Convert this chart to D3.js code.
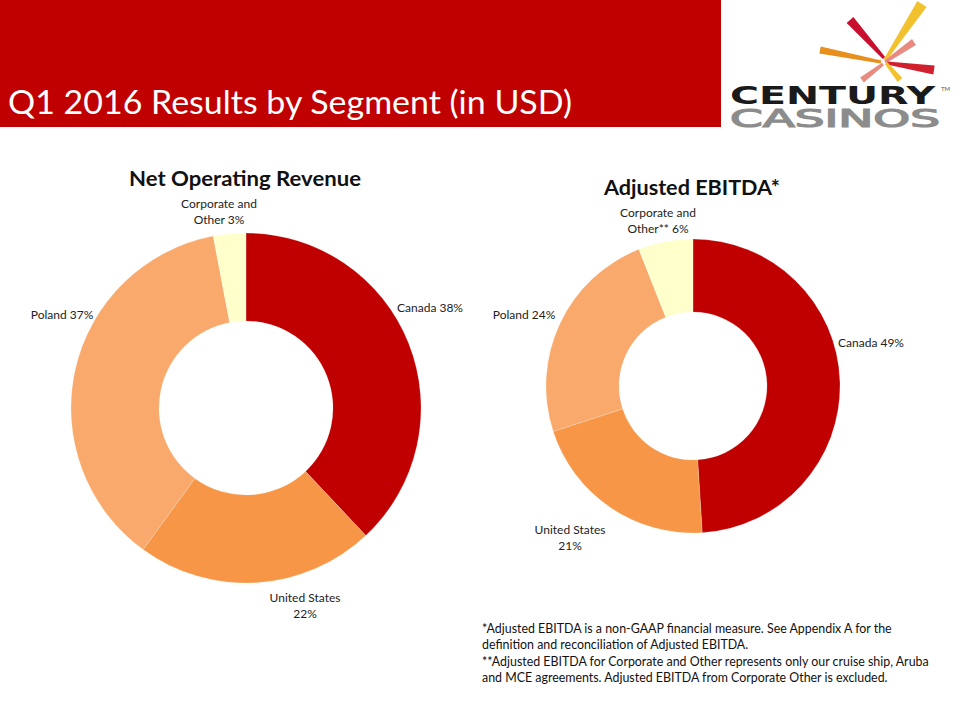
<!DOCTYPE html>
<html><head><meta charset="utf-8">
<script src="https://cdn.jsdelivr.net/npm/d3@7"></script>
<style>
html,body{margin:0;padding:0;background:#fff;}
svg{display:block;font-family:Lato,"Open Sans",sans-serif;}
</style></head>
<body>
<svg id="c" width="960" height="720"></svg>
<script>
// ---------- DATA ----------
const segments = ["Canada", "United States", "Poland", "Corporate and Other"];
const revenueShare = [38, 22, 37, 3];
const ebitdaShare = [49, 21, 24, 6];
const revenueLabels = [["Canada 38%"], ["United States", "22%"], ["Poland 37%"], ["Corporate and", "Other  3%"]];
const ebitdaLabels = [["Canada 49%"], ["United States", "21%"], ["Poland 24%"], ["Corporate and", "Other**  6%"]];
const pageTitle = "Q1 2016 Results by Segment (in USD)";
const chartTitles = ["Net Operating Revenue", "Adjusted EBITDA*"];
const footnotes = [
  "*Adjusted EBITDA is a non-GAAP financial measure. See Appendix A for the",
  "definition and reconciliation of Adjusted EBITDA.",
  "**Adjusted EBITDA for Corporate and Other represents only our cruise ship, Aruba",
  "and MCE agreements.  Adjusted EBITDA from Corporate Other is excluded."
];

// ---------- STYLE / LAYOUT ----------
const colors = d3.scaleOrdinal().domain(segments).range(["#C00000", "#F79646", "#F9A96B", "#FFFFCC"]);
const svg = d3.select("#c");

// header band
svg.append("rect").attr("x", 0).attr("y", 0).attr("width", 721).attr("height", 127).attr("fill", "#C00000");
svg.append("text").attr("x", 8).attr("y", 114).attr("fill", "#fff")
  .attr("font-size", 33).attr("textLength", 564).attr("lengthAdjust", "spacingAndGlyphs")
  .text(pageTitle);

// logo (decorative brush strokes)
const logo = svg.append("g");
function brush(x0, y0, x1, y1, w0, w1) {
  const dx = x1 - x0, dy = y1 - y0, L = Math.hypot(dx, dy);
  const nx = -dy / L, ny = dx / L;
  return [[x0 + nx * w0 / 2, y0 + ny * w0 / 2], [x1 + nx * w1 / 2, y1 + ny * w1 / 2],
          [x1 - nx * w1 / 2, y1 - ny * w1 / 2], [x0 - nx * w0 / 2, y0 - ny * w0 / 2]];
}
const strokes = [
  {p: brush(850, 20, 884, 58, 9, 3), c: "#C8102E"},
  {p: brush(922, 4, 885, 60, 11, 3), c: "#F2C12E"},
  {p: brush(820, 50, 881, 62, 7, 3), c: "#E8901E"},
  {p: brush(914, 42, 885, 62, 7, 3), c: "#E88A80"},
  {p: brush(934, 70, 887, 63, 9, 3), c: "#D0202E"},
  {p: brush(862, 80, 883, 64, 6, 3), c: "#E88A80"},
  {p: brush(900, 80, 886, 63, 6, 3), c: "#F2C12E"}
];
logo.selectAll("path").data(strokes).join("path")
  .attr("d", d => d3.line()(d.p) + "Z")
  .attr("fill", d => d.c);
logo.append("text").attr("x", 730).attr("y", 104).attr("font-family", "DejaVu Sans")
  .attr("font-weight", "bold").attr("font-size", 25).attr("textLength", 205)
  .attr("lengthAdjust", "spacingAndGlyphs").attr("fill", "#1a1a1a").text("CENTURY");
logo.append("text").attr("x", 730).attr("y", 127).attr("font-family", "DejaVu Sans")
  .attr("font-size", 24).attr("textLength", 210).attr("lengthAdjust", "spacingAndGlyphs")
  .attr("fill", "#8c8c8c").attr("stroke", "#8c8c8c").attr("stroke-width", 1.2).text("CASINOS");
logo.append("text").attr("x", 941).attr("y", 91).attr("font-size", 6).attr("fill", "#555").text("TM");

// donuts
const charts = [
  {values: revenueShare, labels: revenueLabels, cx: 246, cy: 408, ro: 175, ri: 87,
   title: chartTitles[0], tx: 245, ty: 186, tlen: 232,
   lab: [[184, -100], [59, 190], [-184, -93], [-27, -204]]},
  {values: ebitdaShare, labels: ebitdaLabels, cx: 693, cy: 386, ro: 147, ri: 74,
   title: chartTitles[1], tx: 692, ty: 195, tlen: 176,
   lab: [[178, -43], [-123, 144], [-169, -71], [-35, -173]]}
];

charts.forEach(ch => {
  const g = svg.append("g").attr("transform", `translate(${ch.cx},${ch.cy})`);
  const pie = d3.pie().sort(null).value(d => d.v);
  const arcs = pie(segments.map((s, i) => ({s, v: ch.values[i], i})));
  const arc = d3.arc().innerRadius(ch.ri).outerRadius(ch.ro);
  g.selectAll("path").data(arcs).join("path")
    .attr("d", arc).attr("fill", d => colors(d.data.s))
    .attr("stroke", "#fff").attr("stroke-width", 0.5).attr("stroke-opacity", 0.4);
  arcs.forEach((a, i) => {
    const t = g.append("text").attr("text-anchor", "middle").attr("font-size", 12).attr("fill", "#222")
      .attr("transform", `translate(${ch.lab[i][0]},${ch.lab[i][1]})`);
    ch.labels[i].forEach((line, k) => {
      t.append("tspan").attr("x", 0).attr("y", k * 16).attr("dy", "0.35em").text(line);
    });
  });
  svg.append("text").attr("x", ch.tx).attr("y", ch.ty).attr("text-anchor", "middle")
    .attr("font-weight", "bold").attr("font-size", 21).attr("fill", "#111")
    .attr("textLength", ch.tlen).attr("lengthAdjust", "spacingAndGlyphs").text(ch.title);
});

// footnotes
const fn = svg.append("text").attr("font-size", 12.4).attr("fill", "#111");
footnotes.forEach((line, i) => {
  fn.append("tspan").attr("x", 482).attr("y", 633 + i * 16.3).text(line);
});
</script>
</body></html>
